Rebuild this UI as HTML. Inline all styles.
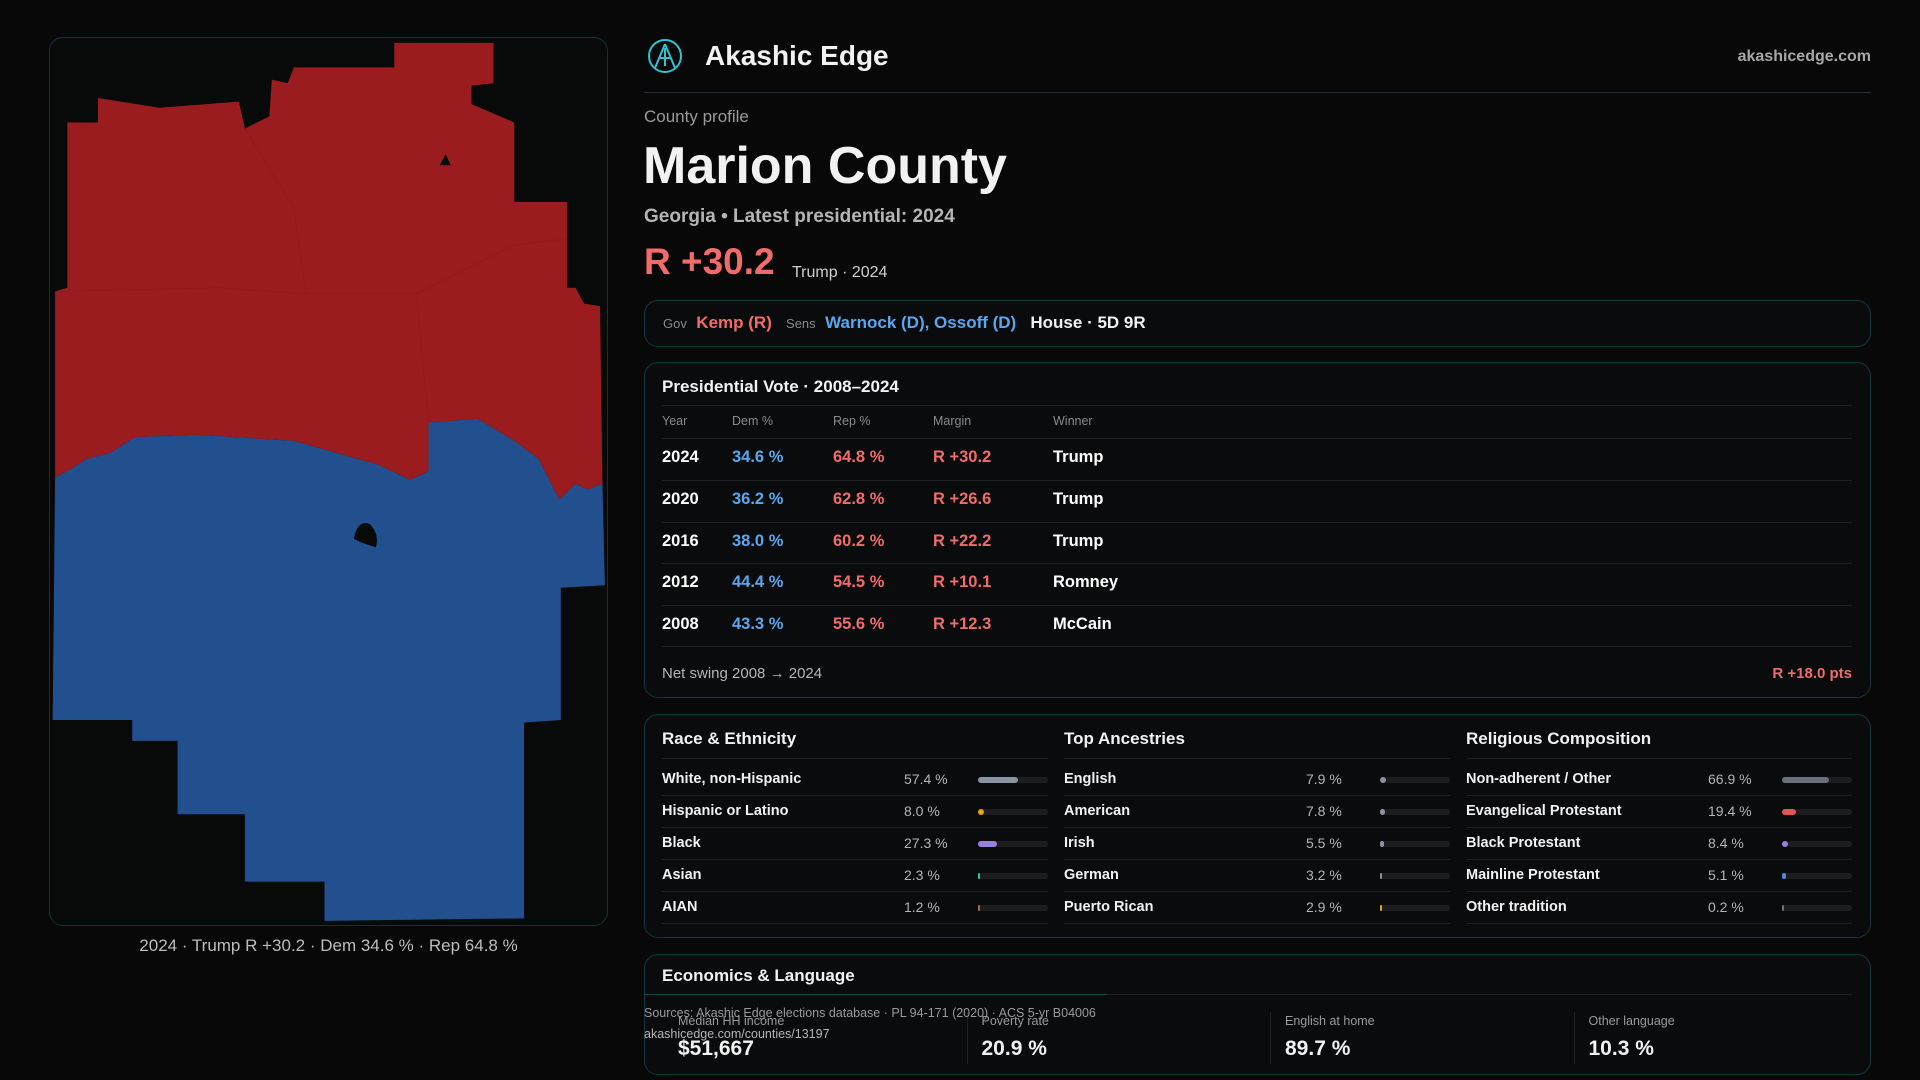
<!DOCTYPE html>
<html><head><meta charset="utf-8">
<style>
*{box-sizing:border-box;margin:0;padding:0}
body{width:1920px;height:1080px;background:#080808;font-family:"Liberation Sans",sans-serif;color:#f2f2f2;position:relative;overflow:hidden}
.a{position:absolute;white-space:nowrap}
.box{position:absolute;border:1px solid #12383c;border-radius:14px;background:#0a0b0c}
.red{color:#f26b6b}.blue{color:#5aa7f0}.gray{color:#9a9a9a}
.sep{position:absolute;height:1px;background:#1d1f21}
</style></head><body>
<div class="box" style="left:49px;top:37px;width:559px;height:889px;border-color:#123236;background:#080909"></div>
<svg class="a" style="left:0;top:0" width="1920" height="1080" viewBox="0 0 1568 882">
<polygon fill="#9b1c1f" points="80,80 130,88 195,83 200,105 220,95 222,65 235,68 240,55 322,55 322,35 403,35 403,68 385,70 385,85 420,100 420,165 463,165 463,235 470,235 477,248 490,250 492,395 480,400 470,395 457,408 450,395 440,375 420,360 390,342 350,345 350,385 335,392 310,380 240,360 160,355 110,357 90,370 70,375 60,382 45,390 45,238 55,235 55,100 80,100"/>
<polygon fill="#22508f" points="45,390 60,382 70,375 90,370 110,357 160,355 240,360 310,380 335,392 350,385 350,345 390,342 420,360 440,375 450,395 457,408 470,395 480,400 492,395 494,478 458,480 458,588 428,590 428,750 265,752 265,720 200,720 200,665 145,665 145,605 108,605 108,588 43,588"/>
<path d="M289,440 Q292,424 302,428 Q310,436 307,447 L295,443 Z" fill="#080909"/>
<polygon points="359,135 364,126 368,135" fill="#080909"/>
<g fill="none" stroke="#8a181b" stroke-width="0.6" opacity="0.6"><path d="M200,105 L240,170 L250,240 L180,235 L45,238"/><path d="M250,240 L340,240 L350,345"/><path d="M340,240 L420,200 L463,195"/></g>
</svg>
<div class="a gray" style="left:49px;width:559px;top:936px;text-align:center;font-size:17px;color:#bdbdbd">2024 · Trump R +30.2 · Dem 34.6 % · Rep 64.8 %</div>

<svg class="a" style="left:647px;top:38px" width="36" height="36" viewBox="0 0 36 36"><circle cx="18" cy="18" r="16" fill="none" stroke="#2fc4cf" stroke-width="2"/><path d="M18 6 L8 30 M18 6 L28 30 M12 20 L24 20 M18 10 L18 28" stroke="#2fc4cf" stroke-width="2" fill="none"/></svg>
<div class="a" style="left:705px;top:40px;font-size:28px;font-weight:bold">Akashic Edge</div>
<div class="a gray" style="right:49px;top:48px;font-size:16px;font-weight:bold;color:#a8a8a8">akashicedge.com</div>
<div class="sep" style="left:644px;width:1227px;top:92px;background:#1e3538"></div>
<div class="a gray" style="left:644px;top:107px;font-size:17px">County profile</div>
<div class="a" style="left:643px;top:136px;font-size:52px;font-weight:bold">Marion County</div>
<div class="a" style="left:644px;top:206px;font-size:19px;font-weight:bold;color:#b5b5b5">Georgia • Latest presidential: 2024</div>
<div class="a red" style="left:644px;top:241px;font-size:37px;font-weight:bold">R +30.2</div>
<div class="a" style="left:792px;top:264px;font-size:16px;color:#cfcfcf">Trump · 2024</div>

<div class="box" style="left:644px;top:300px;width:1227px;height:47px"></div>
<div class="a" style="left:663px;top:313px;font-size:17px;font-weight:bold"><span style="font-size:13px;color:#8a8a8a;font-weight:normal">Gov</span>&nbsp; <span class="red">Kemp (R)</span>&nbsp;&nbsp; <span style="font-size:13px;color:#8a8a8a;font-weight:normal">Sens</span>&nbsp; <span class="blue">Warnock (D), Ossoff (D)</span>&nbsp;&nbsp; House · 5D 9R</div>

<div class="box" style="left:644px;top:362px;width:1227px;height:336px"></div>
<div class="a" style="left:662px;top:377px;font-size:17px;font-weight:bold">Presidential Vote · 2008–2024</div>
<div class="sep" style="left:662px;width:1190px;top:405px"></div>
<div id="pres"></div>
<div class="a" style="left:662px;top:665px;font-size:15px;color:#b5b5b5">Net swing 2008 → 2024</div>
<div class="a red" style="right:68px;top:665px;font-size:15px;font-weight:bold">R +18.0 pts</div>

<div class="box" style="left:644px;top:714px;width:1227px;height:224px"></div>
<div id="demo"></div>

<div class="box" style="left:644px;top:954px;width:1227px;height:121px"></div>
<div class="a" style="left:662px;top:966px;font-size:17px;font-weight:bold">Economics &amp; Language</div>
<div class="sep" style="left:662px;width:1190px;top:994px"></div>
<div class="sep" style="left:644px;width:463px;top:994px;background:#14474c"></div>
<div id="econ"></div>
<div class="a" style="left:644px;top:1006px;font-size:12.5px;color:#9a9a9a">Sources: Akashic Edge elections database · PL 94-171 (2020) · ACS 5-yr B04006</div>
<div class="a" style="left:644px;top:1027px;font-size:12.5px;color:#b5b5b5">akashicedge.com/counties/13197</div>

<script>
const years=["2024","2020","2016","2012","2008"];
const demPct=[34.6,36.2,38.0,44.4,43.3];
const repPct=[64.8,62.8,60.2,54.5,55.6];
const winners=["Trump","Trump","Trump","Romney","McCain"];
const raceLabels=["White, non-Hispanic","Hispanic or Latino","Black","Asian","AIAN"];
const raceValues=[57.4,8.0,27.3,2.3,1.2];
const ancLabels=["English","American","Irish","German","Puerto Rican"];
const ancValues=[7.9,7.8,5.5,3.2,2.9];
const relLabels=["Non-adherent / Other","Evangelical Protestant","Black Protestant","Mainline Protestant","Other tradition"];
const relValues=[66.9,19.4,8.4,5.1,0.2];
const econLabels=["Median HH income","Poverty rate","English at home","Other language"];
const econValues=["$51,667","20.9 %","89.7 %","10.3 %"];

function mk(parent,css,html){const d=document.createElement('div');d.className='a';d.style.cssText=css;d.innerHTML=html;parent.appendChild(d);return d;}
const pres=document.getElementById('pres');
const cols=[662,732,833,933,1053];
["Year","Dem %","Rep %","Margin","Winner"].forEach((h,i)=>{const e=mk(pres,`left:${cols[i]}px;top:414px;font-size:12.5px;color:#8a8a8a`,h);

});
years.forEach((y,i)=>{const top=448+i*41.8;
const s=document.createElement('div');s.className='sep';s.style.cssText=`left:662px;width:1190px;top:${top-10}px`;pres.appendChild(s);
const m=repPct[i]-demPct[i];
const cells=[[y,'#fff'],[demPct[i].toFixed(1)+' %','#5aa7f0'],[repPct[i].toFixed(1)+' %','#f26b6b'],[(m>=0?'R +':'D +')+Math.abs(m).toFixed(1),'#f26b6b'],[winners[i],'#fff']];
cells.forEach((c,j)=>{const e=mk(pres,`left:${cols[j]}px;top:${top}px;font-size:16.5px;font-weight:bold;color:${c[1]}`,c[0]);

});});
const s2=document.createElement('div');s2.className='sep';s2.style.cssText='left:662px;width:1190px;top:646px';pres.appendChild(s2);

const demo=document.getElementById('demo');
const groups=[["Race & Ethnicity",raceLabels,raceValues,["#8a93a3","#e8a020","#9b7fe0","#2bc6a0","#b06a40"]],
["Top Ancestries",ancLabels,ancValues,["#8a93a3","#8a93a3","#8a93a3","#8a93a3","#e8a020"]],
["Religious Composition",relLabels,relValues,["#6b717c","#e05555","#9b7fe0","#4a8ae0","#6b717c"]]];
groups.forEach((g,gi)=>{const x=662+gi*402;
const t=mk(demo,`left:${x}px;top:729px;font-size:17px;font-weight:bold`,g[0].replace('&','&amp;'));


const l=document.createElement('div');l.className='sep';l.style.cssText=`left:${x}px;width:386px;top:758px`;demo.appendChild(l);
g[1].forEach((lab,i)=>{const top=771+i*32;
const e=mk(demo,`left:${x}px;top:${top}px;font-size:14.5px;font-weight:bold`,lab);


const v=mk(demo,`left:${x+242}px;top:${top}px;font-size:14px;color:#b5b5b5`,g[2][i].toFixed(1)+' %');


const tr=mk(demo,`left:${x+316}px;top:${top+6}px;width:70px;height:6px;border-radius:3px;background:#1c1d1f`,'');


const b=document.createElement('div');b.style.cssText=`position:absolute;left:0;top:0;height:6px;border-radius:3px;background:${g[3][i]};width:${Math.max(1.5,70*g[2][i]/100)}px`;tr.appendChild(b);


const sp=document.createElement('div');sp.className='sep';sp.style.cssText=`left:${x}px;width:386px;top:${top+24}px`;demo.appendChild(sp);});});

const econ=document.getElementById('econ');
econLabels.forEach((lab,i)=>{const x=678+i*303.5;
if(i>0){const d=document.createElement('div');d.className='a';d.style.cssText=`left:${x-15}px;top:1012px;width:1px;height:52px;background:#1d1f21`;econ.appendChild(d);}
const e=mk(econ,`left:${x}px;top:1014px;font-size:12.5px;color:#9a9a9a`,lab);


const v=mk(econ,`left:${x}px;top:1037px;font-size:21px;font-weight:bold`,econValues[i]);

});
</script>
</body></html>
